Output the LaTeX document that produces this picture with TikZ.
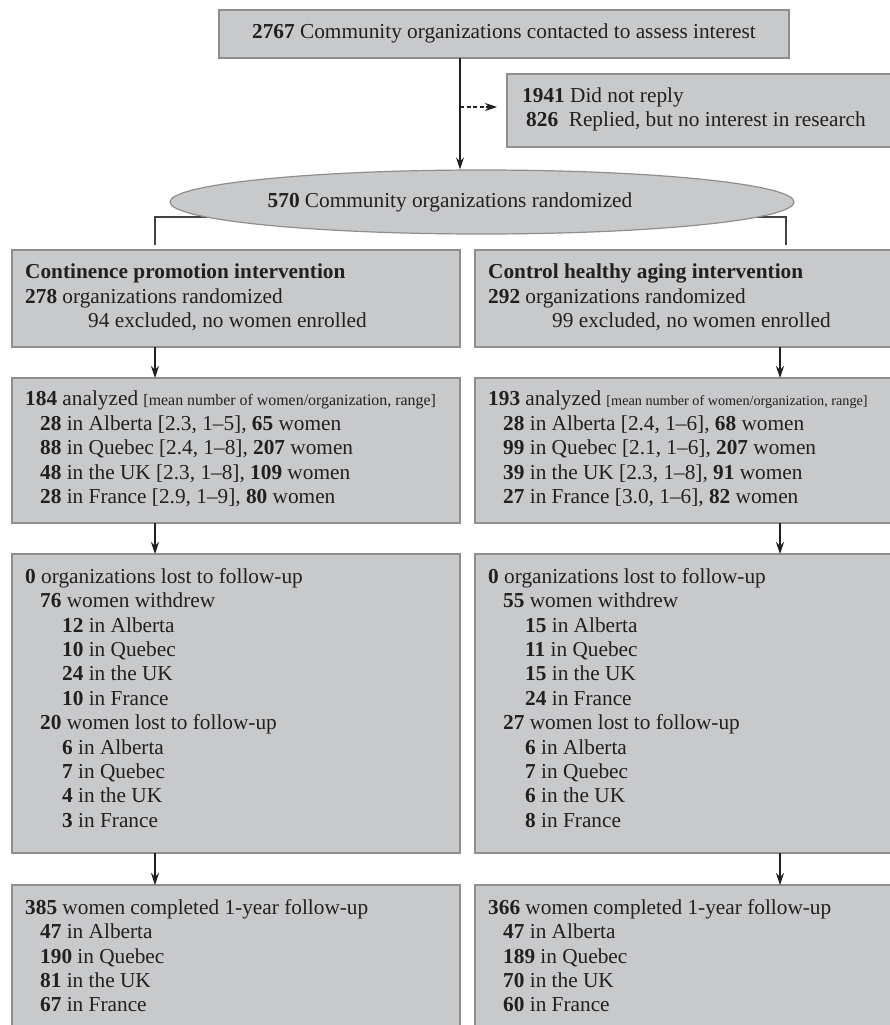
\documentclass[tikz,border=0pt]{standalone}
\usepackage{fontspec}
\setmainfont{Liberation Serif}
\usetikzlibrary{arrows.meta,shapes.geometric}
\definecolor{boxfill}{HTML}{C8C9CB}
\definecolor{boxline}{HTML}{8E8E8E}
\definecolor{ink}{HTML}{231F20}
\newcommand\fsmain{\fontsize{21.3}{24.4}\selectfont}
\newcommand\fssmall{\fontsize{15.9}{18}\selectfont}
\newcommand\fssmaller{\fontsize{14.2}{18}\selectfont}
\begin{document}
\begin{tikzpicture}[x=1pt,y=-1pt,
  box/.style={rectangle, draw=boxline, fill=boxfill, line width=1.2pt, anchor=north west, inner sep=0pt, outer sep=0pt},
  txt/.style={anchor=north west, align=left, inner sep=0pt, font=\fsmain, text=ink},
  ctxt/.style={inner sep=0pt, font=\fsmain, text=ink},
  arr/.style={draw=ink, line width=1.2pt, -{Stealth[length=12pt,width=8pt,inset=4pt]}},
  brk/.style={draw=ink!85, line width=2pt}]
\useasboundingbox (0,0) rectangle (890,1025);
\clip (0,0) rectangle (890,1025);
\fill[white] (0,0) rectangle (890,1025);

% top and side boxes
\node[box, minimum width=570pt, minimum height=48pt] (top) at (219,10) {};
\node[ctxt] (toptxt) at (504,33) {\textbf{2767} Community organizations contacted to assess interest};
\node[box, minimum width=400pt, minimum height=73pt] (side) at (507,74) {};
\node[txt, font={\fontsize{21.3}{23.5}\selectfont}] (sidetxt) at (522,88) {\textbf{1941} Did not reply\\\hspace{4pt}\textbf{826}\ \ Replied, but no interest in research};

% columns
\node[box, minimum width=448pt, minimum height=97pt] (c1) at (12,250) {};
\node[box, minimum width=448pt, minimum height=145pt] (c2) at (12,378) {};
\node[box, minimum width=448pt, minimum height=299pt] (c3) at (12,554) {};
\node[box, minimum width=448pt, minimum height=170pt] (c4) at (12,885) {};
\node[box, minimum width=440pt, minimum height=97pt] (d1) at (475,250) {};
\node[box, minimum width=440pt, minimum height=145pt] (d2) at (475,378) {};
\node[box, minimum width=440pt, minimum height=299pt] (d3) at (475,554) {};
\node[box, minimum width=440pt, minimum height=170pt] (d4) at (475,885) {};

% branch lines behind the ellipse
\coordinate (bl) at (155,217);
\coordinate (br) at (786,217);
\draw[brk] (c1.north -| bl) ++(0,-5) -- (bl) -- (br) -- ++(0,28);

% ellipse
\node[ellipse, draw=boxline, fill=boxfill, line width=1.2pt, minimum width=624pt, minimum height=64pt, inner sep=0pt] (rand) at (482,202) {};
\node[ctxt] (randtxt) at (450,202) {\textbf{570} Community organizations randomized};

% trunk and dashed exclusion arrow
\coordinate (tj) at (460,107);
\draw[arr] (top.south -| tj) -- (rand.north -| tj);
\draw[arr, dash pattern=on 4pt off 2.5pt, shorten >=10pt] (tj) -- (side.west |- tj);

% column arrows
\coordinate (al) at (155,0);
\coordinate (ar) at (780,0);
\draw[arr] (c1.south -| al) -- (c2.north -| al);
\draw[arr] (c2.south -| al) -- (c3.north -| al);
\draw[arr] (c3.south -| al) -- (c4.north -| al);
\draw[arr] (d1.south -| ar) -- (d2.north -| ar);
\draw[arr] (d2.south -| ar) -- (d3.north -| ar);
\draw[arr] (d3.south -| ar) -- (d4.north -| ar);

% left column texts
\node[txt] (c1t) at (25,264) {\textbf{Continence promotion intervention}\\
\textbf{278} organizations randomized\\
\hspace{63pt}94 excluded, no women enrolled};
\node[txt] (c2t) at (25,391) {\textbf{184} analyzed {\fssmall [mean number of women/organization, range]}\\
\hspace{15pt}\textbf{28} in Alberta [2.3, 1–5], \textbf{65} women\\
\hspace{15pt}\textbf{88} in Quebec [2.4, 1–8], \textbf{207} women\\
\hspace{15pt}\textbf{48} in the UK [2.3, 1–8], \textbf{109} women\\
\hspace{15pt}\textbf{28} in France [2.9, 1–9], \textbf{80} women};
\node[txt] (c3t) at (25,568) {\textbf{0} organizations lost to follow-up\\
\hspace{15pt}\textbf{76} women withdrew\\
\hspace{37pt}\textbf{12} in Alberta\\
\hspace{37pt}\textbf{10} in Quebec\\
\hspace{37pt}\textbf{24} in the UK\\
\hspace{37pt}\textbf{10} in France\\
\hspace{15pt}\textbf{20} women lost to follow-up\\
\hspace{37pt}\textbf{6} in Alberta\\
\hspace{37pt}\textbf{7} in Quebec\\
\hspace{37pt}\textbf{4} in the UK\\
\hspace{37pt}\textbf{3} in France};
\node[txt] (c4t) at (25,899) {\textbf{385} women completed 1-year follow-up\\
\hspace{15pt}\textbf{47} in Alberta\\
\hspace{15pt}\textbf{190} in Quebec\\
\hspace{15pt}\textbf{81} in the UK\\
\hspace{15pt}\textbf{67} in France};

% right column texts
\node[txt] (d1t) at (488,264) {\textbf{Control healthy aging intervention}\\
\textbf{292} organizations randomized\\
\hspace{64pt}99 excluded, no women enrolled};
\node[txt] (d2t) at (488,391) {\textbf{193} analyzed {\fssmaller [mean number of women/organization, range]}\\
\hspace{15pt}\textbf{28} in Alberta [2.4, 1–6], \textbf{68} women\\
\hspace{15pt}\textbf{99} in Quebec [2.1, 1–6], \textbf{207} women\\
\hspace{15pt}\textbf{39} in the UK [2.3, 1–8], \textbf{91} women\\
\hspace{15pt}\textbf{27} in France [3.0, 1–6], \textbf{82} women};
\node[txt] (d3t) at (488,568) {\textbf{0} organizations lost to follow-up\\
\hspace{15pt}\textbf{55} women withdrew\\
\hspace{37pt}\textbf{15} in Alberta\\
\hspace{37pt}\textbf{11} in Quebec\\
\hspace{37pt}\textbf{15} in the UK\\
\hspace{37pt}\textbf{24} in France\\
\hspace{15pt}\textbf{27} women lost to follow-up\\
\hspace{37pt}\textbf{6} in Alberta\\
\hspace{37pt}\textbf{7} in Quebec\\
\hspace{37pt}\textbf{6} in the UK\\
\hspace{37pt}\textbf{8} in France};
\node[txt] (d4t) at (488,899) {\textbf{366} women completed 1-year follow-up\\
\hspace{15pt}\textbf{47} in Alberta\\
\hspace{15pt}\textbf{189} in Quebec\\
\hspace{15pt}\textbf{70} in the UK\\
\hspace{15pt}\textbf{60} in France};
\end{tikzpicture}
\end{document}
